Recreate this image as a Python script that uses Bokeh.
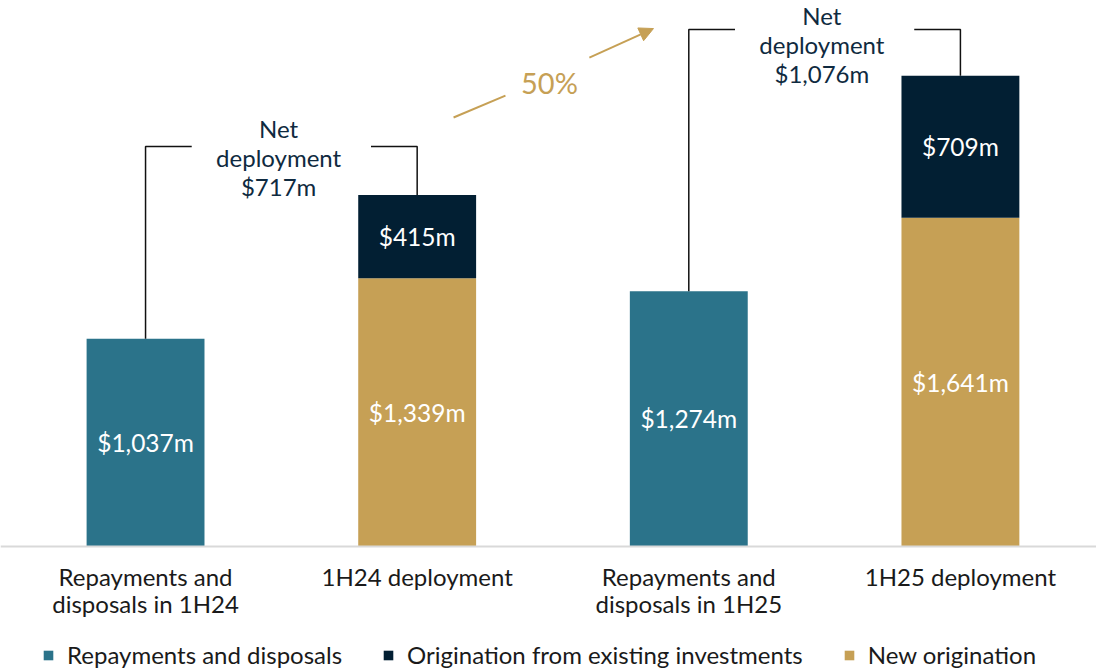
from bokeh.plotting import figure
from bokeh.models import ColumnDataSource, Legend, LegendItem, Range1d, Span, Arrow, NormalHead
from bokeh.core.properties import value
from bokeh.embed import file_html
from bokeh.resources import INLINE

# ---------------- data ----------------
categories = ["Repayments and\ndisposals in 1H24", "1H24 deployment",
              "Repayments and\ndisposals in 1H25", "1H25 deployment"]
repayments = [1037, 0, 1274, 0]
new_origination = [0, 1339, 0, 1641]
existing_origination = [0, 415, 0, 709]
series_names = ["Repayments and disposals", "Origination from existing investments", "New origination"]

# ---------------- style ----------------
TEAL = "#2B738A"
NAVY = "#021F33"
GOLD = "#C6A055"
TEXT_NAVY = "#0F2A40"
FONT = "Lato"

xs = list(range(len(categories)))
totals = [a + b + c for a, b, c in zip(repayments, new_origination, existing_origination)]

src = ColumnDataSource(dict(x=xs, rep=repayments, new=new_origination, exist=existing_origination))

p = figure(width=1096, height=671, x_range=Range1d(-0.534, 3.501), y_range=Range1d(-624, 2725),
           output_backend="svg", toolbar_location=None, min_border=0)
p.axis.visible = False
p.grid.visible = False
p.outline_line_color = None
p.background_fill_color = "white"

rs = p.vbar_stack(["rep", "new", "exist"], x="x", width=0.434, color=[TEAL, GOLD, NAVY],
                  line_color=None, source=src)

p.add_layout(Span(location=0, dimension="width", line_color="#D9D9D9", line_width=2))

# segment value labels
lx, ly, lt = [], [], []
for i in xs:
    base = 0
    for v in (repayments[i], new_origination[i], existing_origination[i]):
        if v > 0:
            lx.append(i)
            ly.append(base + v / 2)
            lt.append(f"${v:,}m")
        base += v
p.text(x=lx, y=ly, text=lt, text_align="center", text_baseline="middle", text_color="white",
       text_font=value(FONT), text_font_size="24.5px")

# category labels
p.text(x=xs, y=[-75] * len(xs), text=categories, text_align="center", text_baseline="top",
       text_color="#1A1A1A", text_font=value(FONT), text_font_size="24px", text_line_height=0.94)

# net deployment brackets
bracket_pad = [242, 230]
text_drop = [75, 75]
nets = []
for k, i in enumerate((0, 2)):
    j = i + 1
    net = totals[j] - totals[i]
    nets.append(net)
    top = max(totals[i], totals[j]) + bracket_pad[k]
    p.line(x=[i, i, i + 0.17], y=[totals[i], top, top], line_color="#111111", line_width=1.5)
    p.line(x=[j - 0.17, j, j], y=[top, top, totals[j]], line_color="#111111", line_width=1.5)
    p.text(x=[i + 0.49], y=[top - text_drop[k] + (20 if k == 0 else 0)],
           text=[f"Net\ndeployment\n${net:,}m"], text_align="center",
           text_baseline="middle", text_color=TEXT_NAVY, text_font=value(FONT),
           text_font_size="24px", text_line_height=1.0)

# growth arrow
growth = round((nets[1] / nets[0] - 1) * 100)
p.line(x=[1.134, 1.325], y=[2141, 2250], line_color=GOLD, line_width=2)
p.add_layout(Arrow(end=NormalHead(size=14, fill_color=GOLD, line_color=GOLD),
                   x_start=1.634, y_start=2440, x_end=1.870, y_end=2585,
                   line_color=GOLD, line_width=2))
p.text(x=[1.487], y=[2315], text=[f"{growth}%"], text_align="center", text_baseline="middle",
       text_color=GOLD, text_font=value(FONT), text_font_size="29px")

legend = Legend(items=[LegendItem(label=series_names[0], renderers=[rs[0]]),
                       LegendItem(label=series_names[1], renderers=[rs[2]]),
                       LegendItem(label=series_names[2], renderers=[rs[1]])],
                orientation="horizontal", location=(42, 2), glyph_width=12, glyph_height=12,
                label_standoff=13, spacing=40, padding=0, margin=0,
                border_line_color=None, background_fill_alpha=0,
                label_text_font=FONT, label_text_font_size="24px", label_text_color="#1A1A1A")
p.add_layout(legend)

open("out.html", "w").write(file_html(p, INLINE))
